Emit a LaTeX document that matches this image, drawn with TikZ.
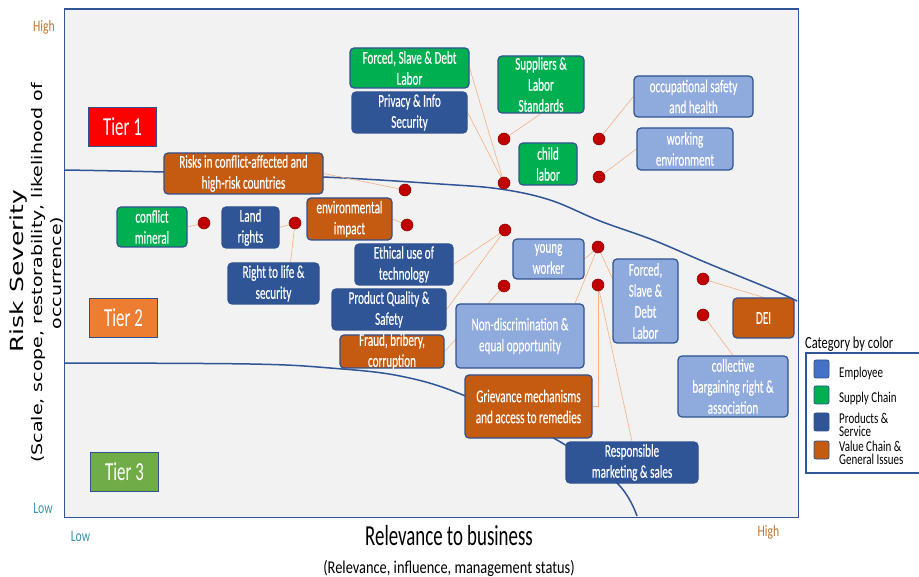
\documentclass[tikz,border=0pt]{standalone}
\usepackage{fontspec}
\setmainfont{Carlito}
\newfontfamily\cf{Carlito}[FakeStretch=0.65]
\newfontfamily\cfbox{Carlito}[FakeStretch=0.62,FakeBold=0.25]
\newfontfamily\cfb{Carlito}[FakeStretch=0.8]
\newfontfamily\cfl{Carlito}[FakeStretch=0.73]
\newfontfamily\djsans{DejaVu Sans}
\usetikzlibrary{calc}
\definecolor{dkb}{HTML}{2F5597}
\definecolor{ltb}{HTML}{8FAADC}
\definecolor{grn}{HTML}{00B050}
\definecolor{org}{HTML}{C55A11}
\definecolor{bdr}{HTML}{2F528F}
\definecolor{conc}{HTML}{F4B183}
\definecolor{dotc}{HTML}{C00000}
\definecolor{plotbg}{HTML}{F2F2F2}
\definecolor{hiC}{HTML}{C0752F}
\definecolor{loC}{HTML}{3F93A8}
\definecolor{tiertwo}{HTML}{ED7D31}
\definecolor{tierthree}{HTML}{70AD47}
\definecolor{empc}{HTML}{4472C4}
\pgfdeclarelayer{bg}
\pgfdeclarelayer{mid}
\pgfsetlayers{bg,mid,main}
\newcommand\mybox[6]{\node[bx, fill=#5, minimum width=#3pt, minimum height=#4pt, label={[bt]center:{#6}}] (#1) at (#2) {};}
\begin{document}
\begin{tikzpicture}[x=1pt,y=-1pt,
  bx/.style={rectangle, rounded corners=4pt, draw=bdr, line width=1.2pt, inner sep=0pt},
  bt/.style={text=white, font=\cfbox\fontsize{18}{21}\selectfont, align=center, inner sep=0pt},
  tier/.style={rectangle, draw=bdr, line width=1.2pt, minimum width=68pt, minimum height=39pt, text=white, font=\cf\fontsize{26}{30}\selectfont, inner sep=0pt},
  dot/.style={circle, fill=dotc, draw=dotc!70!black, line width=0.5pt, minimum size=12pt, inner sep=0pt},
  link/.style={draw=conc, line width=0.6pt},
  tierline/.style={draw=dkb, line width=1.5pt},
  leg/.style={rectangle, rounded corners=2pt, draw=bdr, line width=0.8pt, minimum width=15pt, minimum height=18pt, inner sep=0pt},
  legt/.style={anchor=west, font=\cfl\fontsize{15}{13.5}\selectfont, align=left, inner sep=0pt}
]
\useasboundingbox (0,0) rectangle (919,577);
\begin{pgfonlayer}{bg}
\fill[white] (0,0) rectangle (919,577);
\draw[fill=plotbg, draw=dkb, line width=1pt] (64,9) rectangle (798,517);
\draw[dkb, line width=1.8pt] (64,9) -- (798,9);
\end{pgfonlayer}

% axis texts
\node[font=\cfl\fontsize{16}{18}\selectfont, text=hiC, inner sep=0pt] (yhigh) at (44,27.5) {High};
\node[font=\cfl\fontsize{16}{18}\selectfont, text=loC, inner sep=0pt] (ylow) at (43,508) {Low};
\node[font=\cfl\fontsize{16}{18}\selectfont, text=loC, inner sep=0pt] (xlow) at (80.5,536) {Low};
\node[font=\cfl\fontsize{16}{18}\selectfont, text=hiC, inner sep=0pt] (xhigh) at (768.5,532.5) {High};
\node[font=\cf\fontsize{29}{32}\selectfont, anchor=base, inner sep=0pt] (xtitle) at (449,545) {Relevance to business};
\node[font=\cfb\fontsize{18}{20}\selectfont, anchor=base, inner sep=0pt] (xsub) at (449,573) {(Relevance, influence, management status)};
\node[rotate=90, inner sep=0pt] (ytitle) at (19,271) {\scalebox{1}[0.72]{\djsans\fontsize{25}{29}\selectfont Risk Severity}};
\node[rotate=90, inner sep=0pt] (ysub) at (48,273) {\scalebox{1}[0.77]{\djsans\fontsize{19}{25}\selectfont\begin{tabular}{@{}c@{}}(Scale, scope, restorability, likelihood of\\occurrence)\end{tabular}}};

% tiers
\node[tier, fill=red] (t1) at (122.5,127) {Tier 1};
\node[tier, fill=tiertwo] (t2) at (123.5,318) {Tier 2};
\node[tier, fill=tierthree] (t3) at (124.5,472) {Tier 3};

% dots
\node[dot] (d1) at (405,190) {};
\node[dot] (d2) at (204,223) {};
\node[dot] (d3) at (295,223) {};
\node[dot] (d4) at (407,225) {};
\node[dot] (d5) at (504,139) {};
\node[dot] (d6) at (504,183) {};
\node[dot] (d7) at (599,139) {};
\node[dot] (d8) at (599,177) {};
\node[dot] (d9) at (505,230) {};
\node[dot] (d10) at (504,286) {};
\node[dot] (d11) at (598,247) {};
\node[dot] (d12) at (598,285) {};
\node[dot] (d13) at (703,279) {};
\node[dot] (d14) at (703,315) {};

% boxes
\mybox{fg}{409.5,68}{119}{40}{grn}{Forced, Slave \& Debt\\Labor}
\mybox{priv}{409.5,112.5}{115}{41}{dkb}{Privacy \& Info\\Security}
\mybox{sup}{541,84.5}{86}{57}{grn}{Suppliers \&\\Labor\\Standards}
\mybox{occ}{693.5,96.5}{119}{41}{ltb}{occupational safety\\and health}
\mybox{work}{685,149}{96}{42}{ltb}{working\\environment}
\mybox{child}{548,164}{58}{42}{grn}{child\\labor}
\mybox{yw}{548.5,259}{71}{40}{ltb}{young\\worker}
\mybox{fb}{645.5,301}{65}{84}{ltb}{Forced,\\Slave \&\\Debt\\Labor}
\mybox{dei}{763.5,318}{61}{40}{org}{DEI}
\mybox{cb}{733,386.5}{110}{61}{ltb}{collective\\bargaining right \&\\association}
\mybox{nd}{520,336}{128}{64}{ltb}{Non-discrimination \&\\equal opportunity}
\mybox{griev}{528.5,406.5}{127}{63}{org}{Grievance mechanisms\\and access to remedies}
\mybox{rm}{632,462.5}{132}{41}{dkb}{Responsible\\marketing \& sales}
\mybox{risks}{243.5,173.5}{159}{41}{org}{Risks in conflict-affected and\\high-risk countries}
\mybox{cm}{152,227}{70}{40}{grn}{conflict\\mineral}
\mybox{lr}{250.5,227.5}{57}{41}{dkb}{Land\\rights}
\mybox{ei}{349.5,219}{85}{42}{org}{environmental\\impact}
\mybox{eth}{404,264.5}{98}{41}{dkb}{Ethical use of\\technology}
\mybox{rl}{273.5,283.5}{91}{41}{dkb}{Right to life \&\\security}
\mybox{pq}{389,309.5}{114}{41}{dkb}{Product Quality \&\\Safety}
\mybox{fraud}{392,351.5}{104}{33}{org}{Fraud, bribery,\\corruption}

% curves and connectors
\begin{pgfonlayer}{mid}
\draw[tierline] plot[smooth, tension=0.6] coordinates {(64,170) (163,172) (323,177) (440,184) (500,189) (550,200) (600,221) (653,240) (707,263) (773,290) (797,301)};
\draw[tierline] plot[smooth, tension=0.6] coordinates {(64,363) (250,364) (330,368) (400,376) (463,395) (557,440) (617,483) (637,516)};
\draw[link] (d1) -- (risks.east);
\draw[link] (d2) -- (cm.east);
\draw[link] (d3) -- (lr.east);
\draw[link] (d3) -- ($(rl.north)+(17,0)$);
\draw[link] (d4) -- (ei.east);
\draw[link] (d5) -- (sup.south);
\draw[link] (d6) -- (fg.east);
\draw[link] (d6) -- (priv.east);
\draw[link] (d7) -- (occ.west);
\draw[link] (d8) -- (work.west);
\draw[link] (d9) -- (eth.east);
\draw[link] (d9) -- (pq.east);
\draw[link] (d10) -- (fraud.east);
\draw[link] (d11) -- (yw.east);
\draw[link] (d11) -- ($(nd.north)+(55,0)$);
\draw[link] (d11) -- ($(fb.north west)+(0,20)$);
\draw[link] (d12) |- (griev.east);
\draw[link] (d12) -- (rm.north);
\draw[link] (d13) -- (dei.north);
\draw[link] (d14) -- (cb.north);
\end{pgfonlayer}

% legend
\node[anchor=west, font=\cfl\fontsize{17}{20}\selectfont, inner sep=0pt] (legtitle) at (805,344) {Category by color};
\draw[draw=dkb, line width=1.2pt, fill=white] (806,353) rectangle (925,473);
\node[leg, fill=empc] (l1) at (821.5,369) {};
\node[leg, fill=grn] (l2) at (821.5,395) {};
\node[leg, fill=dkb] (l3) at (821.5,422) {};
\node[leg, fill=org] (l4) at (821.5,450) {};
\node[legt] (lt1) at (839,374) {Employee};
\node[legt] (lt2) at (839,399) {Supply Chain};
\node[legt] (lt3) at (839,425) {Products \&\\Service};
\node[legt] (lt4) at (839,453) {Value Chain \&\\General Issues};
\end{tikzpicture}
\end{document}
